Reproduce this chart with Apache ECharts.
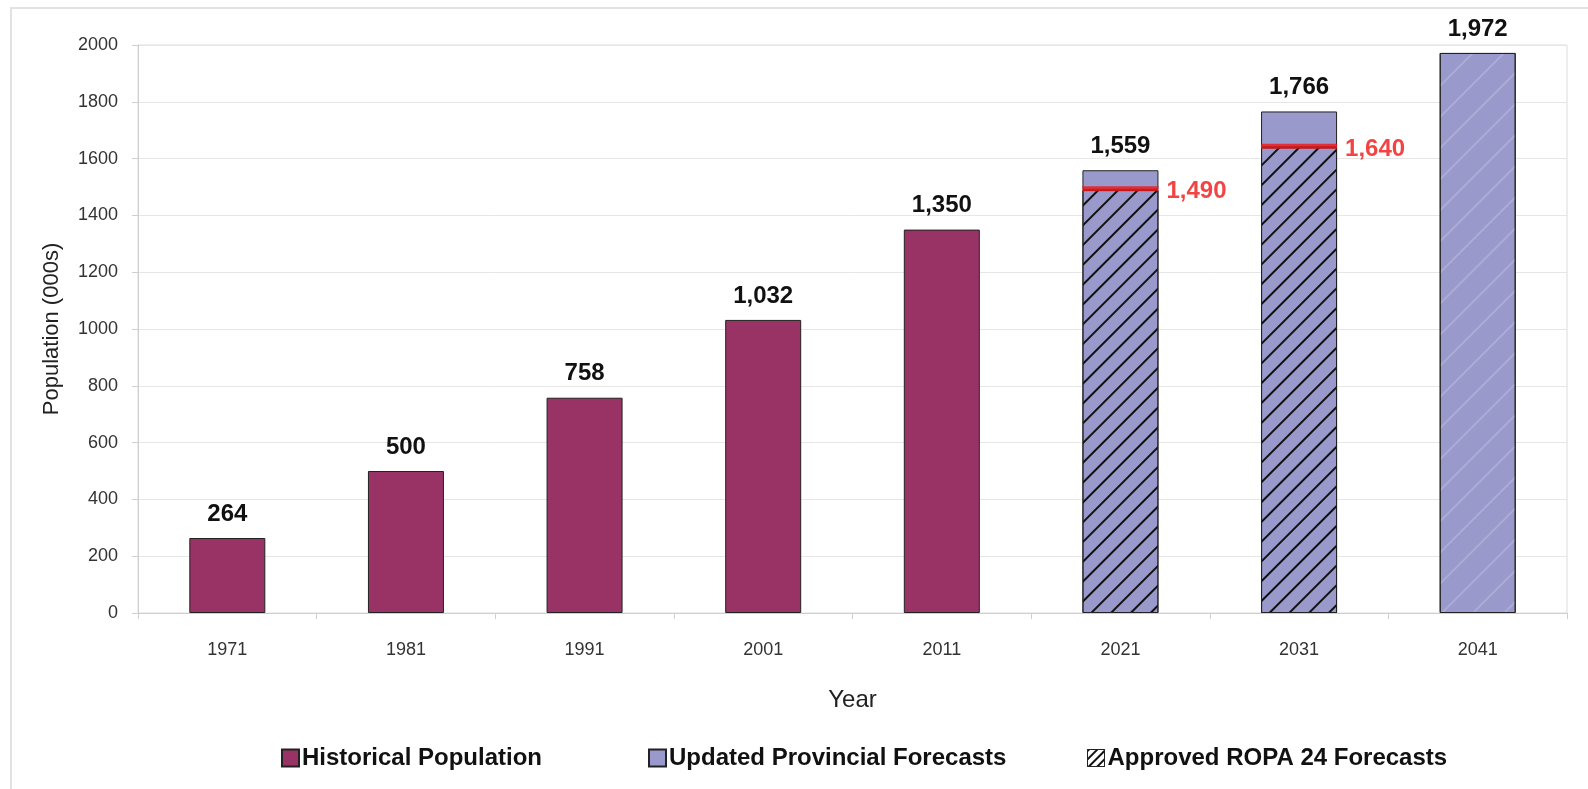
<!DOCTYPE html>
<html>
<head>
<meta charset="utf-8">
<script src="https://cdn.jsdelivr.net/npm/echarts@6/dist/echarts.min.js"></script>
<style>
  html, body { margin: 0; padding: 0; background: #fff; overflow: hidden; }
  #frame { position: absolute; left: 10px; top: 7px; width: 1640px; height: 840px; border: 2px solid #e2e2e2; }
  #chart { position: absolute; left: 0; top: 0; width: 1588px; height: 789px; }
</style>
</head>
<body>
<div id="frame"></div>
<div id="chart"></div>
<script>
// values (population, 000s)
const years = ['1971', '1981', '1991', '2001', '2011', '2021', '2031', '2041'];
const historical = [264, 500, 758, 1032, 1350, null, null, null];
const provincialTotal = [null, null, null, null, null, 1559, 1766, 1972];
const ropa = [null, null, null, null, null, 1490, 1640, null];

const FONT = '"Liberation Sans", Arial, sans-serif';
const fmt = v => Number(v).toLocaleString('en-US');

// the provincial bar sits on top of the ROPA part where both exist
const provincialRest = provincialTotal.map((t, i) => {
  if (t == null) return null;
  const v = t - (ropa[i] || 0);
  if (ropa[i] == null) {
    return {
      value: v,
      itemStyle: {
        decal: {
          symbol: 'rect', symbolSize: 1, color: 'rgba(255,255,255,0.18)',
          dashArrayX: [1, 0], dashArrayY: [2, 20], rotation: -Math.PI / 4
        }
      }
    };
  }
  return v;
});

const hatch = {
  symbol: 'rect', symbolSize: 1, color: '#111',
  dashArrayX: [1, 0], dashArrayY: [1.6, 11.4], rotation: -Math.PI / 4
};

const chart = echarts.init(document.getElementById('chart'));

const legendBase = {
  top: 741, itemWidth: 17, itemHeight: 17, itemGap: 4, icon: 'rect',
  textStyle: { fontFamily: FONT, fontWeight: 'bold', fontSize: 24, color: '#111', padding: [0, 0, 0, -2] }
};

chart.setOption({
  backgroundColor: 'transparent',
  animation: false,
  textStyle: { fontFamily: FONT },
  grid: { left: 138, right: 21, top: 45, bottom: 176, show: true, borderColor: '#dcdcdc', borderWidth: 1 },
  legend: [
    Object.assign({}, legendBase, { left: 276, data: ['Historical Population'] }),
    Object.assign({}, legendBase, { left: 643, data: ['Updated Provincial Forecasts'] }),
    Object.assign({}, legendBase, {
      left: 1082,
      data: [{ name: 'Approved ROPA 24 Forecasts', itemStyle: { color: '#fff', borderColor: '#222', borderWidth: 1, decal: Object.assign({}, hatch, { dashArrayY: [2, 4] }) } }]
    })
  ],
  xAxis: {
    type: 'category',
    data: years,
    name: 'Year',
    nameLocation: 'middle',
    nameGap: 75,
    nameTextStyle: { fontSize: 24, color: '#222', fontFamily: FONT },
    axisLine: { lineStyle: { color: '#cfcfcf' } },
    axisTick: { show: true, length: 6, lineStyle: { color: '#cfcfcf' } },
    axisLabel: { fontSize: 18, color: '#333', margin: 28 }
  },
  yAxis: {
    type: 'value',
    min: 0, max: 2000, interval: 200,
    name: 'Population (000s)',
    nameLocation: 'middle',
    nameGap: 75,
    nameTextStyle: { fontSize: 22, color: '#222', fontFamily: FONT },
    axisLine: { show: true, lineStyle: { color: '#cfcfcf' } },
    axisTick: { show: true, length: 6, lineStyle: { color: '#cfcfcf' } },
    axisLabel: { fontSize: 18, color: '#333', margin: 20, formatter: v => String(v) },
    splitLine: { lineStyle: { color: '#e6e6e6' } }
  },
  series: [
    {
      name: 'Historical Population',
      type: 'bar',
      stack: 'pop',
      barWidth: 76,
      data: historical,
      itemStyle: { color: '#993366', borderColor: '#222', borderWidth: 1 },
      label: {
        show: true, position: 'top', distance: 12,
        fontSize: 24, fontWeight: 'bold', color: '#111',
        formatter: p => fmt(p.value)
      }
    },
    {
      name: 'Approved ROPA 24 Forecasts',
      type: 'bar',
      stack: 'pop',
      barWidth: 76,
      data: ropa,
      itemStyle: { color: '#9999cc', borderColor: '#222', borderWidth: 1, decal: hatch }
    },
    {
      name: 'Updated Provincial Forecasts',
      type: 'bar',
      stack: 'pop',
      barWidth: 76,
      data: provincialRest,
      itemStyle: { color: '#9999cc', borderColor: '#222', borderWidth: 1 },
      label: {
        show: true, position: 'top', distance: 12,
        fontSize: 24, fontWeight: 'bold', color: '#111',
        formatter: p => fmt(provincialTotal[p.dataIndex])
      }
    },
    {
      name: 'ROPA line',
      type: 'scatter',
      symbol: 'rect',
      symbolSize: [76, 5],
      symbolOffset: [0, -1],
      zlevel: 1,
      z: 5,
      data: ropa,
      itemStyle: { color: '#f01414' },
      label: {
        show: true, position: 'right', distance: 8, offset: [0, 3],
        fontSize: 24, fontWeight: 'bold', color: '#f01414',
        formatter: p => fmt(p.value)
      }
    }
  ]
});
</script>
</body>
</html>
